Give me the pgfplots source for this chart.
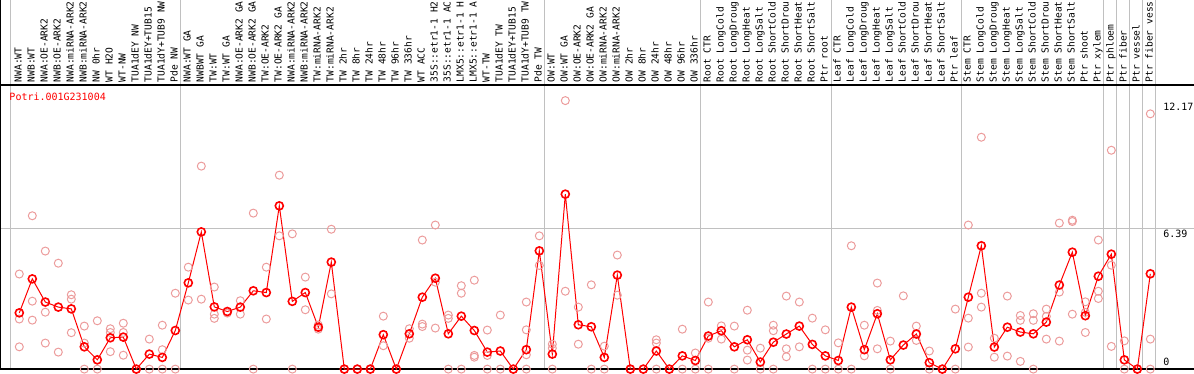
\documentclass[border=0pt]{standalone}
\usepackage{pgfplots}
\pgfplotsset{compat=1.18}
\usepackage{fontspec}
\setmainfont{DejaVu Sans Mono}
\definecolor{lightred}{RGB}{236,156,156}
\definecolor{gridgray}{RGB}{192,192,192}
\newcommand{\lab}[2]{\node[rotate=90,anchor=west,inner sep=0pt,text height=7pt,text depth=0pt,font=\fontsize{9.6}{11}\selectfont] at (axis cs:#1,12.99) {#2};}
\newcommand{\sep}[1]{\draw[gridgray,line width=1pt] (axis cs:#1,-1) -- (axis cs:#1,18);}
\begin{document}
\begin{tikzpicture}
\begin{axis}[
  width=1194pt, height=370pt, scale only axis,
  xmin=-0.4846, xmax=91.36, ymin=-0.04, ymax=16.73,
  axis line style={draw=none}, ticks=none,
  clip=true,
]
% grid lines
\draw[gridgray,line width=1pt] (axis cs:-1,6.39) -- (axis cs:92,6.39);
\sep{0.3}\sep{13.42}\sep{41.38}\sep{53.36}\sep{63.44}\sep{73.44}
\sep{84.41}\sep{85.42}\sep{86.38}\sep{87.38}\sep{88.36}
% frame
\draw[black,line width=1.6pt] (axis cs:-1,12.87) -- (axis cs:92,12.87);
\draw[black,line width=3pt] (axis cs:-1,-0.04) -- (axis cs:92,-0.04);
\draw[black,line width=3pt] (axis cs:-0.4846,-1) -- (axis cs:-0.4846,18);
% replicates
\addplot[only marks, mark=o, mark size=4pt, mark options={lightred, line width=1pt}] coordinates {
(1,4.31)(1,2.27)(1,1.01)
(2,6.95)(2,3.08)(2,2.22)
(3,5.35)(3,2.58)(3,1.18)
(4,4.80)(4,0.77)
(5,3.37)(5,3.17)(5,1.65)
(6,1.95)(6,1.18)(6,0)
(7,2.19)(7,0)
(8,1.83)(8,1.66)(8,0.79)
(9,2.08)(9,1.66)(9,0.63)
(10,0)
(11,1.36)(11,0)
(12,1.99)(12,0.88)(12,0)
(13,3.44)(13,0)
(14,4.62)(14,3.13)
(15,9.20)(15,3.17)
(16,3.72)(16,2.49)(16,2.30)
(17,2.61)(17,2.54)
(18,3.10)(18,2.49)
(19,7.07)(19,0)
(20,4.62)(20,2.27)
(21,8.79)(21,6.04)
(22,6.13)(22,0)
(23,4.17)(23,2.69)
(24,1.81)(24,2.00)
(25,6.34)(25,3.41)
(26,0)(27,0)(28,0)
(29,2.40)(29,1.06)
(30,0)
(31,1.83)(31,1.40)
(32,5.85)(32,2.04)(32,1.93)
(33,6.53)(33,3.94)(33,1.86)
(34,2.45)(34,2.30)(34,0)
(35,3.78)(35,3.44)(35,0)
(36,4.03)(36,0.62)(36,0.54)
(37,1.77)(37,0.62)(37,0)
(38,2.45)(38,0)
(39,0)
(40,3.04)(40,1.78)(40,0.65)(40,0)
(41,6.04)(41,4.70)
(42,1.13)(42,0.95)(42,0)
(43,12.17)(43,3.53)
(44,2.81)(44,1.13)
(45,3.82)(45,0)
(46,1.04)(46,0)
(47,5.17)(47,3.35)
(48,0)(49,0)
(50,1.33)(50,1.18)(50,0)
(51,0)
(52,1.81)(52,0)
(53,0.73)(53,0)
(54,3.04)(54,1.40)(54,0)
(55,1.96)(55,1.36)
(56,1.95)(56,0)
(57,2.67)(57,0.86)(57,0.41)
(58,0.95)(58,0)
(59,1.99)(59,1.74)(59,0)
(60,3.31)(60,0.92)(60,0.56)
(61,3.04)(61,1.01)
(62,2.31)(62,0)
(63,1.78)(63,0)
(64,1.19)(64,0)
(65,5.59)(65,0)
(66,1.99)(66,0.60)
(67,3.90)(67,2.66)(67,0.92)
(68,1.27)(68,0)
(69,3.32)
(70,1.95)(70,1.30)
(71,0.82)(71,0)
(72,0)
(73,2.72)(73,0)
(74,6.53)(74,2.31)(74,1.00)
(75,10.51)(75,3.44)(75,2.81)
(76,1.40)(76,0.54)
(77,3.31)(77,0.59)
(78,2.43)(78,2.21)(78,0.35)
(79,2.51)(79,2.21)(79,0)
(80,2.72)(80,2.39)(80,1.36)
(81,6.62)(81,3.49)(81,1.27)
(82,6.75)(82,6.69)(82,2.49)
(83,3.05)(83,2.57)(83,1.66)
(84,5.85)(84,3.53)(84,3.20)
(85,9.92)(85,4.71)(85,1.03)
(86,1.28)(86,0)
(87,0)
(88,11.57)(88,1.36)(88,0)
};
% mean series
\addplot[red, line width=1pt, mark=o, mark size=4pt, mark options={red, line width=1.6pt}] coordinates {
(1,2.55)(2,4.09)(3,3.04)(4,2.81)(5,2.73)(6,1.01)(7,0.42)(8,1.42)(9,1.45)(10,0)
(11,0.68)(12,0.53)(13,1.75)(14,3.91)(15,6.22)(16,2.82)(17,2.61)(18,2.81)(19,3.55)(20,3.47)
(21,7.40)(22,3.07)(23,3.47)(24,1.90)(25,4.85)(26,0)(27,0)(28,0)(29,1.56)(30,0)
(31,1.60)(32,3.26)(33,4.12)(34,1.60)(35,2.40)(36,1.75)(37,0.77)(38,0.82)(39,0)(40,0.88)
(41,5.36)(42,0.68)(43,7.93)(44,2.01)(45,1.92)(46,0.53)(47,4.26)(48,0)(49,0)(50,0.82)
(51,0)(52,0.60)(53,0.39)(54,1.50)(55,1.74)(56,1.01)(57,1.33)(58,0.32)(59,1.22)(60,1.59)
(61,1.95)(62,1.12)(63,0.60)(64,0.39)(65,2.81)(66,0.88)(67,2.51)(68,0.42)(69,1.09)(70,1.59)
(71,0.29)(72,0)(73,0.92)(74,3.26)(75,5.59)(76,1.00)(77,1.90)(78,1.68)(79,1.60)(80,2.13)
(81,3.81)(82,5.30)(83,2.42)(84,4.21)(85,5.21)(86,0.42)(87,0)(88,4.32)
};
% title and value labels
\node[anchor=west,inner sep=0pt,text=red,font=\fontsize{10}{12}\selectfont] at (axis cs:0.23,12.34) {Potri.001G231004};
\node[anchor=north west,inner sep=0pt,font=\fontsize{10}{12}\selectfont] at (axis cs:88.98,12.07) {12.17};
\node[anchor=north west,inner sep=0pt,font=\fontsize{10}{12}\selectfont] at (axis cs:88.98,6.33) {6.39};
\node[anchor=south west,inner sep=0pt,font=\fontsize{10}{12}\selectfont] at (axis cs:88.98,0.15) {0};
% category labels
\lab{0.9}{NWA:WT}
\lab{1.9}{NWB:WT}
\lab{2.9}{NWA:OE-ARK2}
\lab{3.9}{NWB:OE-ARK2}
\lab{4.9}{NWA:miRNA-ARK2}
\lab{5.9}{NWB:miRNA-ARK2}
\lab{6.9}{NW 0hr}
\lab{7.9}{WT H2O}
\lab{8.9}{WT-NW}
\lab{9.9}{TUA1dEY NW}
\lab{10.9}{TUA1dEY+TUB15}
\lab{11.9}{TUA1dY+TUB9 NW}
\lab{12.9}{Pde NW}
\lab{13.9}{NWA:WT GA}
\lab{14.9}{NWBWT GA}
\lab{15.9}{TW:WT}
\lab{16.9}{TW:WT GA}
\lab{17.9}{NWA:OE-ARK2 GA}
\lab{18.9}{NWB:OE-ARK2 GA}
\lab{19.9}{TW:OE-ARK2}
\lab{20.9}{TW:OE-ARK2 GA}
\lab{21.9}{NWA:miRNA-ARK2}
\lab{22.9}{NWB:miRNA-ARK2}
\lab{23.9}{TW:miRNA-ARK2}
\lab{24.9}{TW:miRNA-ARK2}
\lab{25.9}{TW 2hr}
\lab{26.9}{TW 8hr}
\lab{27.9}{TW 24hr}
\lab{28.9}{TW 48hr}
\lab{29.9}{TW 96hr}
\lab{30.9}{TW 336hr}
\lab{31.9}{WT ACC}
\lab{32.9}{35S::etr1-1 H2}
\lab{33.9}{35S::etr1-1 AC}
\lab{34.9}{LMX5::etr1-1 H}
\lab{35.9}{LMX5::etr1-1 A}
\lab{36.9}{WT-TW}
\lab{37.9}{TUA1dEY TW}
\lab{38.9}{TUA1dEY+TUB15}
\lab{39.9}{TUA1dY+TUB9 TW}
\lab{40.9}{Pde TW}
\lab{41.9}{OW:WT}
\lab{42.9}{OW:WT GA}
\lab{43.9}{OW:OE-ARK2}
\lab{44.9}{OW:OE-ARK2 GA}
\lab{45.9}{OW:miRNA-ARK2}
\lab{46.9}{OW:miRNA-ARK2}
\lab{47.9}{OW 2hr}
\lab{48.9}{OW 8hr}
\lab{49.9}{OW 24hr}
\lab{50.9}{OW 48hr}
\lab{51.9}{OW 96hr}
\lab{52.9}{OW 336hr}
\lab{53.9}{Root CTR}
\lab{54.9}{Root LongCold}
\lab{55.9}{Root LongDroug}
\lab{56.9}{Root LongHeat}
\lab{57.9}{Root LongSalt}
\lab{58.9}{Root ShortCold}
\lab{59.9}{Root ShortDrou}
\lab{60.9}{Root ShortHeat}
\lab{61.9}{Root ShortSalt}
\lab{62.9}{Ptr root}
\lab{63.9}{Leaf CTR}
\lab{64.9}{Leaf LongCold}
\lab{65.9}{Leaf LongDroug}
\lab{66.9}{Leaf LongHeat}
\lab{67.9}{Leaf LongSalt}
\lab{68.9}{Leaf ShortCold}
\lab{69.9}{Leaf ShortDrou}
\lab{70.9}{Leaf ShortHeat}
\lab{71.9}{Leaf ShortSalt}
\lab{72.9}{Ptr leaf}
\lab{73.9}{Stem CTR}
\lab{74.9}{Stem LongCold}
\lab{75.9}{Stem LongDroug}
\lab{76.9}{Stem LongHeat}
\lab{77.9}{Stem LongSalt}
\lab{78.9}{Stem ShortCold}
\lab{79.9}{Stem ShortDrou}
\lab{80.9}{Stem ShortHeat}
\lab{81.9}{Stem ShortSalt}
\lab{82.9}{Ptr shoot}
\lab{83.9}{Ptr xylem}
\lab{84.9}{Ptr phloem}
\lab{85.9}{Ptr fiber}
\lab{86.9}{Ptr vessel}
\lab{87.9}{Ptr fiber vess}
\end{axis}
\end{tikzpicture}
\end{document}
